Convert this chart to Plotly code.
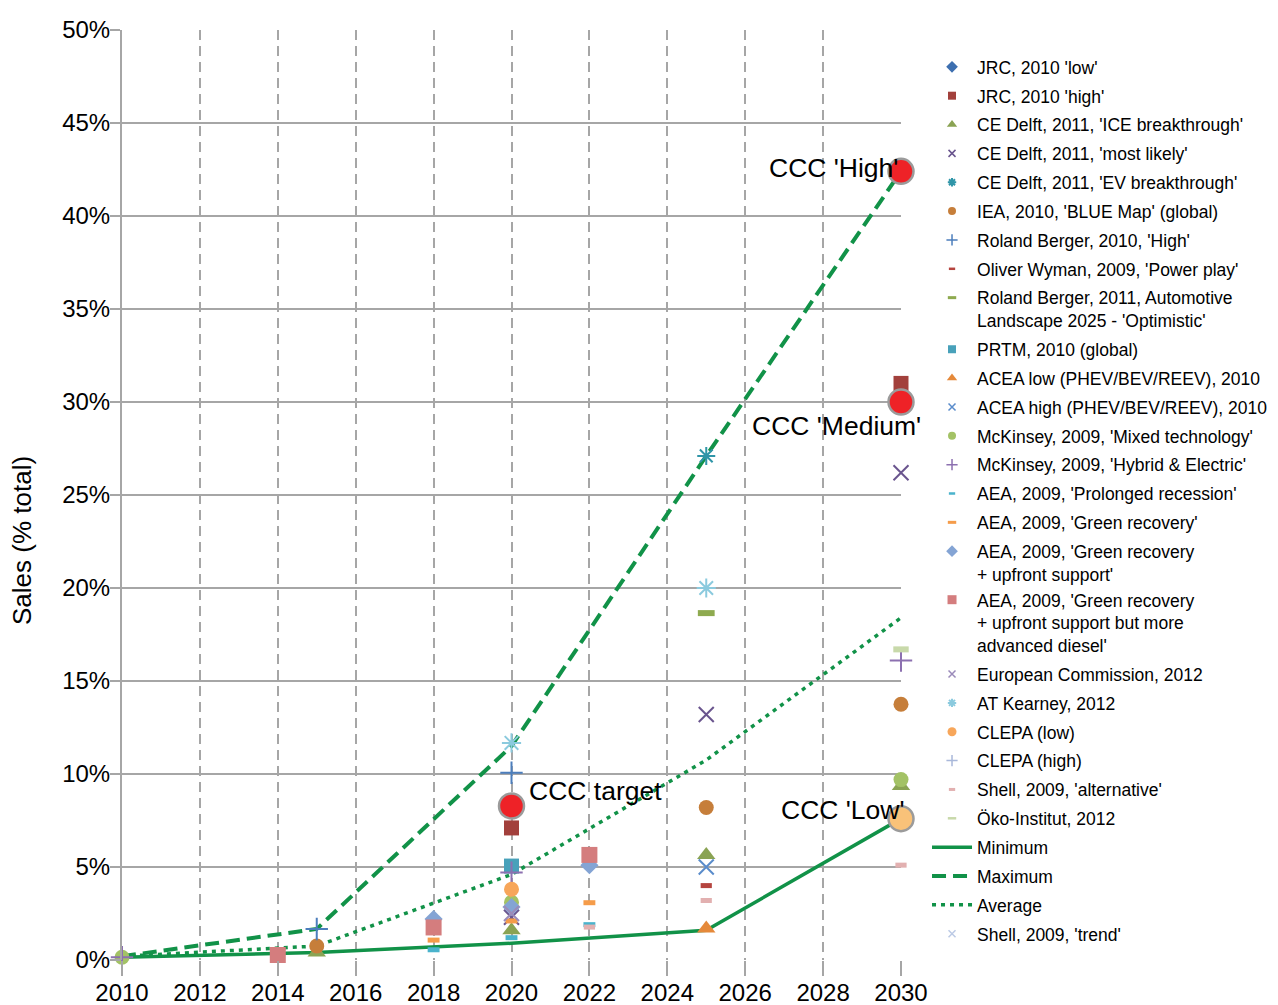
import plotly.graph_objects as go

# ---------------- data (values in % of sales) ----------------
jrc_low_x, jrc_low_y = [], []
jrc_high_x, jrc_high_y = [2020, 2030], [7.1, 31.0]
ce_ice_x, ce_ice_y = [2015, 2020, 2025, 2030], [0.4, 1.6, 5.65, 9.35]
ce_likely_x, ce_likely_y = [2020, 2025, 2030], [2.3, 13.2, 26.2]
ce_ev_x, ce_ev_y = [2025], [27.1]
iea_x, iea_y = [2015, 2025, 2030], [0.75, 8.2, 13.75]
rb2010_x, rb2010_y = [2015, 2020], [1.67, 10.07]
ow_x, ow_y = [2025], [4.0]
rb2011_x, rb2011_y = [2025], [18.65]
prtm_x, prtm_y = [2020], [5.05]
acea_low_x, acea_low_y = [2025], [1.7]
acea_high_x, acea_high_y = [2025], [5.0]
mck_mixed_x, mck_mixed_y = [2010, 2020, 2030], [0.15, 3.1, 9.7]
mck_hybrid_x, mck_hybrid_y = [2010, 2020, 2030], [0.15, 4.7, 16.1]
aea_prol_x, aea_prol_y = [2018, 2020, 2022], [0.55, 1.2, 1.9]
aea_green_x, aea_green_y = [2018, 2020, 2022], [1.07, 2.1, 3.08]
aea_upfront_x, aea_upfront_y = [2018, 2020, 2022], [2.2, 2.85, 5.1]
aea_diesel_x, aea_diesel_y = [2014, 2018, 2022], [0.27, 1.75, 5.65]
ec_x, ec_y = [2020], [2.5]
atk_x, atk_y = [2020, 2025], [11.67, 20.0]
clepa_low_x, clepa_low_y = [2020], [3.8]
clepa_high_x, clepa_high_y = [], []
shell_alt_x, shell_alt_y = [2022, 2025, 2030], [1.77, 3.2, 5.1]
oeko_x, oeko_y = [2030], [16.7]
shell_trend_x, shell_trend_y = [], []

line_years = [2010, 2015, 2020, 2025, 2030]
minimum = [0.15, 0.4, 0.9, 1.6, 7.6]
maximum = [0.2, 1.67, 11.5, 27.1, 42.4]
average = [0.2, 0.75, 4.6, 10.75, 18.4]

ccc_x = [2020, 2030, 2030]
ccc_y = [8.28, 42.4, 30.0]
ccc_labels = ["CCC target", "CCC 'High'", "CCC 'Medium'"]
ccc_low_x, ccc_low_y = [2030], [7.6]
ccc_low_label = "CCC 'Low'"

y_ticks = [0, 5, 10, 15, 20, 25, 30, 35, 40, 45, 50]
x_ticks = [2010, 2012, 2014, 2016, 2018, 2020, 2022, 2024, 2026, 2028, 2030]

# ---------------- styles ----------------
FONT = "Liberation Sans, Arial, Helvetica, sans-serif"
GREEN = "#119248"
GRID = "#A6A6A6"

# name, x, y, symbol, color, size, linewidth, legend size, legend linewidth, group
series = [
    ("JRC, 2010 'low'", jrc_low_x, jrc_low_y, "diamond", "#3D6FB0", 14, 0, 9, 0, "g1"),
    ("JRC, 2010 'high'", jrc_high_x, jrc_high_y, "square", "#A2403C", 15, 0, 8, 0, "g2"),
    ("CE Delft, 2011, 'ICE breakthrough'", ce_ice_x, ce_ice_y, "triangle-up", "#8AA353", 16, 0, 9, 0, "g3"),
    ("CE Delft, 2011, 'most likely'", ce_likely_x, ce_likely_y, "x-thin", "#6A558E", 15, 2, 7, 1.5, "g4"),
    ("CE Delft, 2011, 'EV breakthrough'", ce_ev_x, ce_ev_y, "asterisk", "#2F95A8", 15, 2, 7, 2, "g5"),
    ("IEA, 2010, 'BLUE Map' (global)", iea_x, iea_y, "circle", "#C67E3A", 15, 0, 8, 0, "g6"),
    ("Roland Berger, 2010, 'High'", rb2010_x, rb2010_y, "cross-thin", "#4C7EBC", 16, 2, 8, 1.5, "g7"),
    ("Oliver Wyman, 2009, 'Power play'", ow_x, ow_y, "line-ew", "#B5443F", 8, 5, 4.5, 2.5, "g8"),
    ("Roland Berger, 2011, Automotive<br>Landscape 2025 - 'Optimistic'", rb2011_x, rb2011_y, "line-ew", "#8EAA4F", 12, 6, 6, 3, "g9"),
    ("PRTM, 2010 (global)", prtm_x, prtm_y, "square", "#48A1BA", 15, 0, 8, 0, "g10"),
    ("ACEA low (PHEV/BEV/REEV), 2010", acea_low_x, acea_low_y, "triangle-up", "#E5893A", 16, 0, 9, 0, "g11"),
    ("ACEA high (PHEV/BEV/REEV), 2010", acea_high_x, acea_high_y, "x-thin", "#5A8CCB", 15, 2, 7, 1.5, "g12"),
    ("McKinsey, 2009, 'Mixed technology'", mck_mixed_x, mck_mixed_y, "circle", "#A3C265", 15, 0, 8, 0, "g13"),
    ("McKinsey, 2009, 'Hybrid & Electric'", mck_hybrid_x, mck_hybrid_y, "cross-thin", "#8C70B0", 16, 2, 8, 1.5, "g14"),
    ("AEA, 2009, 'Prolonged recession'", aea_prol_x, aea_prol_y, "line-ew", "#4AB3CC", 8.5, 5, 4.5, 2.5, "g15"),
    ("AEA, 2009, 'Green recovery'", aea_green_x, aea_green_y, "line-ew", "#F59C4A", 8.5, 5, 6, 3, "g16"),
    ("AEA, 2009, 'Green recovery<br>+ upfront support'", aea_upfront_x, aea_upfront_y, "diamond", "#84A4D4", 14, 0, 9, 0, "g17"),
    ("AEA, 2009, 'Green recovery<br>+ upfront support but more<br>advanced diesel'", aea_diesel_x, aea_diesel_y, "square", "#D47D7E", 16, 0, 9, 0, "g17"),
    ("European Commission, 2012", ec_x, ec_y, "x-thin", "#9B8BBA", 15, 2, 7, 1.5, "g19"),
    ("AT Kearney, 2012", atk_x, atk_y, "asterisk", "#8BCADE", 16, 2, 7, 2, "g20"),
    ("CLEPA (low)", clepa_low_x, clepa_low_y, "circle", "#F7A65A", 15, 0, 9, 0, "g21"),
    ("CLEPA (high)", clepa_high_x, clepa_high_y, "cross-thin", "#A9B8DA", 16, 2, 8, 1.5, "g22"),
    ("Shell, 2009, 'alternative'", shell_alt_x, shell_alt_y, "line-ew", "#E2B0B0", 8, 5, 4.5, 3, "g23"),
    ("Öko-Institut, 2012", oeko_x, oeko_y, "line-ew", "#C8D9AA", 11, 6, 6, 2.5, "g24"),
]

fig = go.Figure()

# summary lines (drawn first, under markers)
lines = [
    ("Minimum", minimum, "solid", 3.5),
    ("Maximum", maximum, "14px,7px", 4),
    ("Average", average, "4px,5px", 3.5),
]
for k, (name, vals, dash, w) in enumerate(lines):
    fig.add_trace(go.Scatter(
        x=line_years, y=vals, mode="lines", name=name,
        line=dict(color=GREEN, width=w, dash=dash),
        legendgroup=name, legendrank=100 + k, cliponaxis=False,
    ))

# scatter series
for i, (name, xs, ys, sym, col, size, lw, lsize, llw, grp) in enumerate(series):
    if xs:
        fig.add_trace(go.Scatter(
            x=xs, y=ys, mode="markers", showlegend=False, legendgroup=grp,
            marker=dict(symbol=sym, size=size, color=col,
                        line=dict(color=col, width=lw)),
            cliponaxis=False, hoverinfo="x+y+name", name=name,
        ))
    fig.add_trace(go.Scatter(
        x=[None], y=[None], mode="markers", name=name, legendgroup=grp,
        legendrank=i + 1,
        marker=dict(symbol=sym, size=lsize, color=col,
                    line=dict(color=col, width=llw)),
    ))

# Shell trend (legend only, after the summary lines)
fig.add_trace(go.Scatter(
    x=shell_trend_x or [None], y=shell_trend_y or [None], mode="markers",
    name="Shell, 2009, 'trend'", legendgroup="shelltrend", legendrank=200,
    marker=dict(symbol="x-thin", size=7, color="#BCCAE5",
                line=dict(color="#BCCAE5", width=1.5)),
))

# CCC scenario points
fig.add_trace(go.Scatter(
    x=ccc_x, y=ccc_y, mode="markers", showlegend=False,
    marker=dict(symbol="circle", size=25, color="#EE2227",
                line=dict(color="#9B9B9B", width=2.5)),
    cliponaxis=False, name="CCC",
))
fig.add_trace(go.Scatter(
    x=ccc_low_x, y=ccc_low_y, mode="markers", showlegend=False,
    marker=dict(symbol="circle", size=25, color="#F9C279",
                line=dict(color="#9B9B9B", width=2.5)),
    cliponaxis=False, name="CCC Low",
))

label_pos = {
    "CCC target": dict(xanchor="left", xshift=15, yshift=15),
    "CCC 'High'": dict(xanchor="right", xshift=-1, yshift=3),
    "CCC 'Medium'": dict(xanchor="right", xshift=22, yshift=-24),
}
for x, y, t in zip(ccc_x, ccc_y, ccc_labels):
    fig.add_annotation(x=x, y=y, text=t, showarrow=False, yanchor="middle",
                       font=dict(size=26.5, color="black", family=FONT), **label_pos[t])
fig.add_annotation(x=ccc_low_x[0], y=ccc_low_y[0], text=ccc_low_label, showarrow=False,
                   xanchor="right", yanchor="middle", xshift=6, yshift=9,
                   font=dict(size=26.5, color="black", family=FONT))

# y-axis title as annotation
fig.add_annotation(xref="paper", yref="paper", x=-0.1284, y=0.4516,
                   text="Sales (% total)", textangle=-90, showarrow=False,
                   xanchor="center", yanchor="middle",
                   font=dict(size=26, color="black", family=FONT))

fig.update_layout(
    width=1270, height=997,
    margin=dict(l=114, r=377, t=22, b=45, autoexpand=False),
    paper_bgcolor="white", plot_bgcolor="white",
    font=dict(family=FONT, color="black"),
    showlegend=True,
    legend=dict(
        x=1.0334, y=0.9796, xanchor="left", yanchor="top",
        font=dict(size=17.5, family=FONT, color="black"),
        itemwidth=40, tracegroupgap=3.1, traceorder="grouped",
        valign="top", bgcolor="rgba(0,0,0,0)",
    ),
    xaxis=dict(
        range=[2010, 2030], tickmode="array", tickvals=x_ticks,
        ticktext=[str(v) for v in x_ticks],
        showgrid=True, gridcolor=GRID, gridwidth=2, griddash="10px,6px",
        ticks="outside", ticklen=15, tickwidth=2, tickcolor=GRID,
        ticklabelstandoff=-4,
        showline=False, zeroline=False,
        tickfont=dict(size=24, family=FONT, color="black"),
    ),
    yaxis=dict(
        range=[0, 50], tickmode="array", tickvals=y_ticks,
        ticktext=[f"{v}%" for v in y_ticks],
        showgrid=True, gridcolor=GRID, gridwidth=2,
        ticks="outside", ticklen=10, tickwidth=2, tickcolor=GRID,
        ticklabelstandoff=-5,
        showline=True, linecolor=GRID, linewidth=2, zeroline=False,
        tickfont=dict(size=24, family=FONT, color="black"),
    ),
)

fig.write_html("out.html")
